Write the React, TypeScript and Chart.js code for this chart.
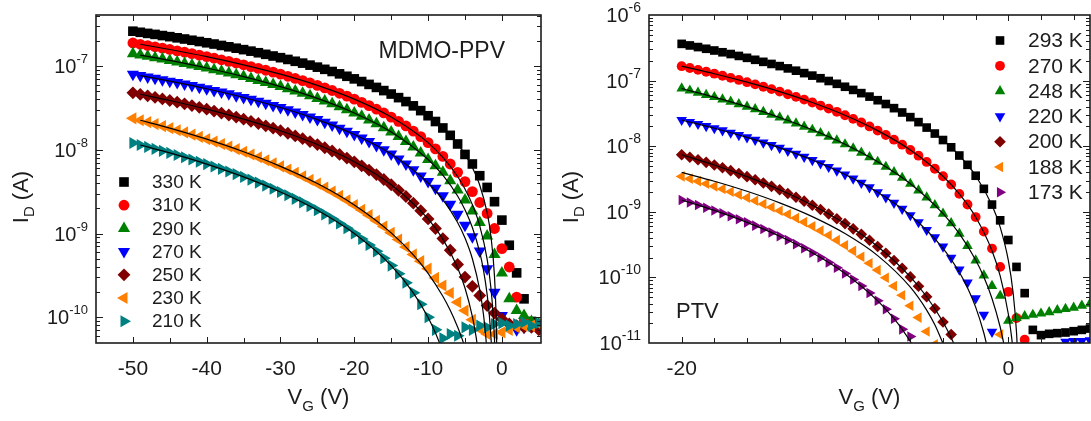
import React, { useEffect, useRef } from 'react';
import { Chart, registerables } from 'chart.js';

Chart.register(...registerables);

const FONT = '"Liberation Sans", Arial, Helvetica, sans-serif';
const INK = '#1c1c1c';

// ===================== LEFT PANEL : MDMO-PPV =====================
const leftPanelLabel = 'MDMO-PPV';
const leftTemps = ['330 K', '310 K', '290 K', '270 K', '250 K', '230 K', '210 K'];
const leftXTickLabels = [-50, -40, -30, -20, -10, 0];
const leftYExponents = [-10, -9, -8, -7];

// gate voltage (V) of the measured points
const leftVG = [-50, -49, -48, -47, -46, -45, -44, -43, -42, -41, -40, -39, -38, -37, -36, -35, -34, -33, -32, -31,
  -30, -29, -28, -27, -26, -25, -24, -23, -22, -21, -20, -19, -18, -17, -16, -15, -14, -13, -12, -11,
  -10, -9, -8, -7, -6, -5, -4, -3, -2, -1, 0, 1, 2, 3, 4, 5];

// log10 of I_D (A), one value per leftVG entry
const logI_330K = [-6.585, -6.598, -6.611, -6.623, -6.637, -6.650, -6.664, -6.678, -6.693, -6.708,
  -6.723, -6.738, -6.755, -6.771, -6.788, -6.805, -6.823, -6.842, -6.861, -6.881,
  -6.901, -6.922, -6.944, -6.966, -6.990, -7.014, -7.040, -7.066, -7.094, -7.123,
  -7.154, -7.186, -7.220, -7.256, -7.294, -7.335, -7.378, -7.425, -7.476, -7.533,
  -7.594, -7.663, -7.740, -7.828, -7.931, -8.056, -8.170, -8.310, -8.450, -8.620,
  -8.840, -9.140, -9.470, -9.780, -10.050, -10.100];
const logI_310K = [-6.726, -6.741, -6.756, -6.771, -6.787, -6.803, -6.819, -6.836, -6.853, -6.870,
  -6.888, -6.907, -6.926, -6.945, -6.965, -6.986, -7.007, -7.029, -7.051, -7.074,
  -7.098, -7.123, -7.149, -7.175, -7.203, -7.232, -7.262, -7.293, -7.326, -7.360,
  -7.396, -7.434, -7.474, -7.516, -7.561, -7.610, -7.661, -7.716, -7.777, -7.843,
  -7.915, -7.990, -8.080, -8.170, -8.270, -8.380, -8.500, -8.630, -8.760, -8.940,
  -9.180, -9.400, -9.760, -10.050, -10.100, -10.120];
const logI_290K = [-6.854, -6.870, -6.885, -6.901, -6.918, -6.934, -6.952, -6.969, -6.987, -7.006,
  -7.024, -7.044, -7.064, -7.084, -7.105, -7.127, -7.149, -7.172, -7.196, -7.220,
  -7.246, -7.271, -7.299, -7.327, -7.356, -7.387, -7.418, -7.451, -7.486, -7.522,
  -7.561, -7.601, -7.644, -7.689, -7.737, -7.788, -7.843, -7.903, -7.967, -8.038,
  -8.117, -8.190, -8.270, -8.370, -8.480, -8.600, -8.730, -8.870, -9.030, -9.250,
  -9.470, -9.780, -9.920, -9.980, -10.050, -10.080];
const logI_270K = [-7.100, -7.115, -7.131, -7.147, -7.164, -7.181, -7.198, -7.216, -7.234, -7.253,
  -7.272, -7.292, -7.312, -7.333, -7.354, -7.376, -7.398, -7.422, -7.446, -7.471,
  -7.496, -7.523, -7.550, -7.579, -7.609, -7.640, -7.672, -7.706, -7.742, -7.779,
  -7.818, -7.859, -7.903, -7.950, -7.999, -8.052, -8.110, -8.171, -8.240, -8.314,
  -8.380, -8.460, -8.550, -8.650, -8.770, -8.900, -9.040, -9.210, -9.420, -9.700,
  -9.980, -10.100, -10.150, -10.120, -10.100, -10.080];
const logI_250K = [-7.320, -7.338, -7.356, -7.374, -7.393, -7.412, -7.432, -7.452, -7.473, -7.494,
  -7.516, -7.539, -7.562, -7.585, -7.610, -7.635, -7.661, -7.687, -7.715, -7.743,
  -7.773, -7.803, -7.835, -7.868, -7.902, -7.938, -7.976, -8.015, -8.056, -8.099,
  -8.144, -8.192, -8.243, -8.297, -8.355, -8.418, -8.485, -8.558, -8.638, -8.727,
  -8.826, -8.940, -9.060, -9.200, -9.370, -9.520, -9.630, -9.740, -9.860, -9.950,
  -10.020, -10.080, -10.100, -10.120, -10.120, -10.150];
const logI_230K = [-7.625, -7.648, -7.671, -7.694, -7.718, -7.742, -7.768, -7.793, -7.820, -7.846,
  -7.874, -7.903, -7.932, -7.962, -7.992, -8.024, -8.057, -8.090, -8.125, -8.161,
  -8.198, -8.236, -8.275, -8.317, -8.360, -8.404, -8.451, -8.499, -8.550, -8.603,
  -8.659, -8.718, -8.781, -8.847, -8.917, -8.992, -9.073, -9.161, -9.250, -9.330,
  -9.420, -9.530, -9.620, -9.710, -9.820, -9.920, -10.030, -10.140, -10.200, -10.200,
  -10.180, -10.150, -10.120, -10.100, -10.100, -10.080];
const logI_210K = [-7.920, -7.943, -7.966, -7.989, -8.013, -8.038, -8.063, -8.089, -8.116, -8.143,
  -8.171, -8.200, -8.229, -8.260, -8.291, -8.324, -8.357, -8.392, -8.428, -8.465,
  -8.504, -8.544, -8.586, -8.629, -8.675, -8.722, -8.772, -8.824, -8.880, -8.938,
  -9.000, -9.066, -9.137, -9.213, -9.294, -9.383, -9.480, -9.588, -9.708, -9.845,
  -10.000, -10.150, -10.250, -10.200, -10.220, -10.120, -10.150, -10.100, -10.120, -10.080,
  -10.070, -10.100, -10.080, -10.060, -10.100, -10.070];

// fitted curves (black lines): V_G and log10 I_D
const fitVG_330K = [-49, -45, -40, -35, -30, -25, -20, -15, -10, -8, -6, -5, -4, -3, -2, -1.5, -1, -0.8, -0.7];
const fitLogI_330K = [-6.598, -6.650, -6.723, -6.805, -6.901, -7.014, -7.154, -7.335, -7.594, -7.740, -7.931, -8.056, -8.213, -8.424, -8.752, -9.021, -9.514, -9.935, -10.357];
const fitVG_310K = [-49, -45, -40, -35, -30, -25, -20, -15, -10, -8, -6, -5, -4, -3, -2, -1.5, -1.2, -1, -0.9];
const fitLogI_310K = [-6.741, -6.803, -6.888, -6.986, -7.098, -7.232, -7.396, -7.610, -7.915, -8.092, -8.319, -8.468, -8.655, -8.909, -9.306, -9.638, -9.949, -10.273, -10.514];
const fitVG_290K = [-49, -45, -40, -35, -30, -25, -20, -15, -10, -8, -6, -5, -4, -3, -2.5, -2, -1.7, -1.5, -1.4];
const fitLogI_290K = [-6.870, -6.934, -7.024, -7.127, -7.246, -7.387, -7.561, -7.788, -8.117, -8.303, -8.552, -8.717, -8.929, -9.226, -9.435, -9.726, -9.977, -10.209, -10.359];
const fitVG_270K = [-49, -45, -40, -35, -30, -25, -20, -15, -10, -8, -6, -5, -4, -3, -2.5, -2.2, -2.1];
const fitLogI_270K = [-7.115, -7.181, -7.272, -7.376, -7.496, -7.640, -7.818, -8.052, -8.397, -8.596, -8.868, -9.054, -9.301, -9.673, -9.964, -10.215, -10.322];
const fitVG_250K = [-49, -45, -40, -35, -30, -25, -20, -15, -10, -8, -6, -5, -4, -3.5, -3.3];
const fitLogI_250K = [-7.338, -7.412, -7.516, -7.635, -7.773, -7.938, -8.144, -8.418, -8.826, -9.067, -9.408, -9.650, -9.991, -10.232, -10.353];
const fitVG_230K = [-49, -45, -40, -35, -30, -25, -20, -15, -12, -10, -8, -7, -6, -5.5, -5];
const fitLogI_230K = [-7.648, -7.742, -7.874, -8.024, -8.198, -8.404, -8.659, -8.992, -9.256, -9.475, -9.749, -9.917, -10.116, -10.231, -10.359];
const fitVG_210K = [-49, -45, -40, -35, -30, -25, -20, -15, -12, -10, -9, -8.5, -8.2];
const fitLogI_210K = [-7.943, -8.038, -8.171, -8.324, -8.504, -8.722, -9.000, -9.383, -9.708, -10.003, -10.189, -10.297, -10.367];

// ===================== RIGHT PANEL : PTV =====================
const rightPanelLabel = 'PTV';
const rightTemps = ['293 K', '270 K', '248 K', '220 K', '200 K', '188 K', '173 K'];
const rightXTickLabels = [-20, 0];
const rightYExponents = [-11, -10, -9, -8, -7, -6];

const rightVG = [-20, -19.5, -19, -18.5, -18, -17.5, -17, -16.5, -16, -15.5, -15, -14.5, -14, -13.5, -13, -12.5, -12, -11.5, -11, -10.5,
  -10, -9.5, -9, -8.5, -8, -7.5, -7, -6.5, -6, -5.5, -5, -4.5, -4, -3.5, -3, -2.5, -2, -1.5, -1, -0.5,
  0, 0.5, 1, 1.5, 2, 2.5, 3, 3.5, 4, 4.5, 5];

const logI_293K = [-6.440, -6.464, -6.489, -6.515, -6.541, -6.568, -6.595, -6.624, -6.653, -6.683,
  -6.714, -6.746, -6.779, -6.814, -6.849, -6.886, -6.924, -6.964, -7.006, -7.049,
  -7.094, -7.142, -7.191, -7.244, -7.299, -7.357, -7.420, -7.486, -7.557, -7.633,
  -7.716, -7.807, -7.906, -8.017, -8.142, -8.284, -8.450, -8.650, -8.890, -9.130,
  -9.430, -9.840, -10.240, -10.800, -10.880, -10.860, -10.850, -10.840, -10.820, -10.800,
  -10.780];
const logI_270K_PTV = [-6.780, -6.808, -6.836, -6.865, -6.895, -6.926, -6.958, -6.990, -7.024, -7.058,
  -7.094, -7.130, -7.168, -7.208, -7.248, -7.290, -7.334, -7.380, -7.427, -7.476,
  -7.528, -7.583, -7.639, -7.699, -7.763, -7.829, -7.901, -7.977, -8.058, -8.145,
  -8.240, -8.344, -8.458, -8.584, -8.727, -8.889, -9.080, -9.300, -9.560, -9.840,
  -10.220, -10.620, -10.950, null, null, null, null, null, null, null,
  null];
const logI_248K = [-7.120, -7.152, -7.184, -7.217, -7.251, -7.286, -7.322, -7.359, -7.397, -7.436,
  -7.477, -7.518, -7.562, -7.606, -7.653, -7.701, -7.750, -7.802, -7.856, -7.912,
  -7.971, -8.033, -8.098, -8.166, -8.238, -8.314, -8.395, -8.481, -8.573, -8.673,
  -8.781, -8.899, -9.028, -9.172, -9.334, -9.519, -9.740, -9.970, -10.130, -10.280,
  -10.660, -10.620, -10.590, -10.570, -10.550, -10.530, -10.500, -10.480, -10.460, -10.430,
  -10.400];
const logI_220K = [-7.600, -7.630, -7.661, -7.693, -7.726, -7.759, -7.794, -7.830, -7.866, -7.904,
  -7.944, -7.984, -8.026, -8.070, -8.115, -8.162, -8.211, -8.262, -8.316, -8.372,
  -8.431, -8.493, -8.558, -8.627, -8.701, -8.780, -8.864, -8.954, -9.052, -9.159,
  -9.277, -9.390, -9.530, -9.700, -9.880, -10.080, -10.320, -10.570, -10.830, null,
  null, null, null, null, null, null, null, -10.980, -10.970, -10.970,
  -10.960];
const logI_200K = [-8.130, -8.168, -8.206, -8.246, -8.287, -8.329, -8.373, -8.417, -8.464, -8.511,
  -8.561, -8.612, -8.665, -8.720, -8.778, -8.838, -8.900, -8.965, -9.033, -9.105,
  -9.180, -9.260, -9.344, -9.434, -9.530, -9.632, -9.742, -9.862, -9.992, -10.135,
  -10.295, -10.474, -10.679, -10.870, null, null, null, null, null, null,
  null, null, null, null, null, null, null, null, null, null,
  null];
const logI_188K = [-8.460, -8.496, -8.534, -8.572, -8.612, -8.652, -8.695, -8.739, -8.784, -8.831,
  -8.880, -8.930, -8.983, -9.038, -9.096, -9.157, -9.220, -9.287, -9.357, -9.432,
  -9.511, -9.596, -9.686, -9.784, -9.889, -10.005, -10.132, -10.273, -10.432, -10.613,
  -10.825, -11.020, null, null, null, null, null, null, null, -10.870,
  null, null, null, null, null, null, null, null, null, null,
  null];
const logI_173K = [-8.820, -8.858, -8.897, -8.938, -8.979, -9.022, -9.067, -9.113, -9.161, -9.211,
  -9.262, -9.316, -9.372, -9.431, -9.493, -9.557, -9.625, -9.697, -9.773, -9.854,
  -9.940, -10.032, -10.132, -10.239, -10.357, -10.486, -10.630, -10.792, -10.900, null,
  null, null, null, null, null, null, null, null, null, null,
  null, null, null, null, null, null, null, null, null, null,
  null];

const fitVG_293K = [-20, -18, -16, -14, -12, -10, -8, -6, -4, -3, -2, -1, -0.5, 0, 0.3, 0.5, 0.6];
const fitLogI_293K = [-6.440, -6.541, -6.653, -6.779, -6.924, -7.094, -7.299, -7.557, -7.906, -8.142, -8.450, -8.900, -9.234, -9.742, -10.250, -10.835, -11.343];
const fitVG_270K_PTV = [-20, -18, -16, -14, -12, -10, -8, -6, -4, -3, -2, -1, -0.5, 0, 0.2, 0.3];
const fitLogI_270K_PTV = [-6.780, -6.895, -7.024, -7.168, -7.334, -7.528, -7.763, -8.058, -8.458, -8.727, -9.080, -9.594, -9.977, -10.558, -10.911, -11.139];
const fitVG_248K = [-20, -18, -16, -14, -12, -10, -8, -6, -4, -3, -2, -1.5, -1, -0.5, -0.25];
const fitLogI_248K = [-7.120, -7.251, -7.397, -7.562, -7.750, -7.971, -8.238, -8.573, -9.028, -9.334, -9.736, -9.995, -10.321, -10.756, -11.045];
const fitVG_220K = [-20, -18, -16, -14, -12, -10, -8, -6, -4, -3, -2.5, -2, -1.5, -1.3];
const fitLogI_220K = [-7.600, -7.726, -7.866, -8.026, -8.211, -8.431, -8.701, -9.052, -9.556, -9.921, -10.157, -10.453, -10.848, -11.054];
const fitVG_200K = [-20, -18, -16, -14, -12, -10, -8, -6, -5, -4, -3.5, -3.2];
const fitLogI_200K = [-8.130, -8.287, -8.464, -8.665, -8.900, -9.180, -9.530, -9.992, -10.295, -10.679, -10.919, -11.084];
const fitVG_188K = [-20, -18, -16, -14, -12, -10, -8, -6, -5, -4.5, -4];
const fitLogI_188K = [-8.400, -8.534, -8.687, -8.864, -9.074, -9.332, -9.668, -10.149, -10.498, -10.723, -11.006];
const fitVG_173K = [-20, -18, -16, -14, -12, -10, -8, -7, -6.5, -6, -5.5];
const fitLogI_173K = [-8.820, -8.979, -9.161, -9.372, -9.625, -9.940, -10.357, -10.630, -10.792, -10.977, -11.193];

// ===================== styles =====================
type Shape = 'rect' | 'circle' | 'triangle' | 'rectRot';
interface MStyle { color: string; shape: Shape; rot: number; r: number }

const leftStyles: MStyle[] = [
  { color: '#000000', shape: 'rect', rot: 0, r: 6.8 },
  { color: '#FF0000', shape: 'circle', rot: 0, r: 5.4 },
  { color: '#008000', shape: 'triangle', rot: 0, r: 7.0 },
  { color: '#0000FF', shape: 'triangle', rot: 180, r: 7.0 },
  { color: '#800000', shape: 'rectRot', rot: 0, r: 6.4 },
  { color: '#FF8000', shape: 'triangle', rot: 270, r: 7.0 },
  { color: '#008080', shape: 'triangle', rot: 90, r: 7.0 },
];
const rightStyles: MStyle[] = [
  { color: '#000000', shape: 'rect', rot: 0, r: 6.1 },
  { color: '#FF0000', shape: 'circle', rot: 0, r: 4.9 },
  { color: '#008000', shape: 'triangle', rot: 0, r: 6.1 },
  { color: '#0000FF', shape: 'triangle', rot: 180, r: 6.1 },
  { color: '#800000', shape: 'rectRot', rot: 0, r: 5.8 },
  { color: '#FF8000', shape: 'triangle', rot: 270, r: 6.1 },
  { color: '#800080', shape: 'triangle', rot: 90, r: 6.1 },
];

interface SeriesDef { label: string; logI: (number | null)[]; fitVG: number[]; fitLogI: number[] }

const leftSeries: SeriesDef[] = [
  { label: leftTemps[0], logI: logI_330K, fitVG: fitVG_330K, fitLogI: fitLogI_330K },
  { label: leftTemps[1], logI: logI_310K, fitVG: fitVG_310K, fitLogI: fitLogI_310K },
  { label: leftTemps[2], logI: logI_290K, fitVG: fitVG_290K, fitLogI: fitLogI_290K },
  { label: leftTemps[3], logI: logI_270K, fitVG: fitVG_270K, fitLogI: fitLogI_270K },
  { label: leftTemps[4], logI: logI_250K, fitVG: fitVG_250K, fitLogI: fitLogI_250K },
  { label: leftTemps[5], logI: logI_230K, fitVG: fitVG_230K, fitLogI: fitLogI_230K },
  { label: leftTemps[6], logI: logI_210K, fitVG: fitVG_210K, fitLogI: fitLogI_210K },
];
const rightSeries: SeriesDef[] = [
  { label: rightTemps[0], logI: logI_293K, fitVG: fitVG_293K, fitLogI: fitLogI_293K },
  { label: rightTemps[1], logI: logI_270K_PTV, fitVG: fitVG_270K_PTV, fitLogI: fitLogI_270K_PTV },
  { label: rightTemps[2], logI: logI_248K, fitVG: fitVG_248K, fitLogI: fitLogI_248K },
  { label: rightTemps[3], logI: logI_220K, fitVG: fitVG_220K, fitLogI: fitLogI_220K },
  { label: rightTemps[4], logI: logI_200K, fitVG: fitVG_200K, fitLogI: fitLogI_200K },
  { label: rightTemps[5], logI: logI_188K, fitVG: fitVG_188K, fitLogI: fitLogI_188K },
  { label: rightTemps[6], logI: logI_173K, fitVG: fitVG_173K, fitLogI: fitLogI_173K },
];

interface PanelSpec {
  width: number; left: number;
  xMin: number; xMax: number; yMin: number; yMax: number;
  padRight: number; yAxisW: number;
  xLabels: number[]; xMarkStep: number;
  yExps: number[];
  vg: number[]; series: SeriesDef[]; styles: MStyle[];
  legend: { mx: number; tx: number; y0: number; dy: number; size: number };
  yTitleX: number; supSize: number;
  label: { text: string; x: number; y: number; align: CanvasTextAlign; size: number };
}

const leftSpec: PanelSpec = {
  width: 545, left: 0,
  xMin: -55, xMax: 5.3, yMin: 4.93e-11, yMax: 4.06e-7,
  padRight: 4, yAxisW: 96,
  xLabels: leftXTickLabels, xMarkStep: 5,
  yExps: leftYExponents,
  vg: leftVG, series: leftSeries, styles: leftStyles,
  legend: { mx: 124, tx: 152, y0: 182, dy: 23.2, size: 19 },
  yTitleX: 28, supSize: 13,
  label: { text: leftPanelLabel, x: 505, y: 58, align: 'right', size: 23 },
};
const rightSpec: PanelSpec = {
  width: 546, left: 545,
  xMin: -22, xMax: 5, yMin: 1e-11, yMax: 1e-6,
  padRight: 1, yAxisW: 104,
  xLabels: rightXTickLabels, xMarkStep: 2,
  yExps: rightYExponents,
  vg: rightVG, series: rightSeries, styles: rightStyles,
  legend: { mx: 455, tx: 483, y0: 40.5, dy: 25.3, size: 21 },
  yTitleX: 33, supSize: 14,
  label: { text: rightPanelLabel, x: 131, y: 318, align: 'left', size: 22 },
};

// ===================== drawing helpers =====================
const font = (px: number) => `${px}px ${FONT}`;

function drawMarker(ctx: CanvasRenderingContext2D, s: MStyle, x: number, y: number) {
  const r = s.r;
  ctx.fillStyle = s.color;
  ctx.beginPath();
  if (s.shape === 'circle') {
    ctx.arc(x, y, r, 0, Math.PI * 2);
  } else if (s.shape === 'rect') {
    const h = r * Math.SQRT1_2;
    ctx.rect(x - h, y - h, 2 * h, 2 * h);
  } else if (s.shape === 'rectRot') {
    ctx.moveTo(x - r, y); ctx.lineTo(x, y - r); ctx.lineTo(x + r, y); ctx.lineTo(x, y + r); ctx.closePath();
  } else {
    let a = (s.rot * Math.PI) / 180;
    ctx.moveTo(x + Math.sin(a) * r, y - Math.cos(a) * r);
    for (let i = 0; i < 2; i++) {
      a += (2 * Math.PI) / 3;
      ctx.lineTo(x + Math.sin(a) * r, y - Math.cos(a) * r);
    }
    ctx.closePath();
  }
  ctx.fill();
}

type Run = { t: string; k?: 'sub' | 'sup' };
function drawRich(ctx: CanvasRenderingContext2D, runs: Run[], x: number, y: number, align: 'left' | 'center' | 'right',
  base: number, small: number, subDy: number, supDy: number) {
  let total = 0;
  const ws = runs.map((r) => {
    ctx.font = font(r.k ? small : base);
    const w = ctx.measureText(r.t).width;
    total += w;
    return w;
  });
  let cx = align === 'left' ? x : align === 'center' ? x - total / 2 : x - total;
  ctx.textAlign = 'left';
  ctx.textBaseline = 'alphabetic';
  runs.forEach((r, i) => {
    ctx.font = font(r.k ? small : base);
    const dy = r.k === 'sub' ? subDy : r.k === 'sup' ? -supDy : 0;
    ctx.fillText(r.t, cx, y + dy);
    cx += ws[i];
  });
}

function makeDecor(spec: PanelSpec) {
  return {
    id: 'decor',
    afterDraw(chart: any) {
      const { ctx, chartArea: a } = chart;
      const xs = chart.scales.x;
      const ys = chart.scales.y;
      ctx.save();
      ctx.strokeStyle = INK;
      ctx.fillStyle = INK;
      // inward tick marks, mirrored on all four sides
      ctx.lineWidth = 1;
      ctx.beginPath();
      const first = Math.ceil(spec.xMin / spec.xMarkStep) * spec.xMarkStep;
      for (let v = first; v <= spec.xMax + 1e-9; v += spec.xMarkStep) {
        const px = Math.round(xs.getPixelForValue(v)) + 0.5;
        if (px <= a.left + 2 || px >= a.right - 2) continue;
        const len = spec.xLabels.includes(v) ? 6 : 5;
        ctx.moveTo(px, a.bottom); ctx.lineTo(px, a.bottom - len);
        ctx.moveTo(px, a.top); ctx.lineTo(px, a.top + len);
      }
      const eLo = Math.floor(Math.log10(spec.yMin));
      const eHi = Math.ceil(Math.log10(spec.yMax));
      for (let e = eLo; e <= eHi; e++) {
        for (let k = 1; k <= 9; k++) {
          const v = k * Math.pow(10, e);
          if (v < spec.yMin || v > spec.yMax) continue;
          const py = Math.round(ys.getPixelForValue(v)) + 0.5;
          if (py <= a.top + 1 || py >= a.bottom - 1) continue;
          const len = k === 1 ? 7 : 4;
          ctx.moveTo(a.left, py); ctx.lineTo(a.left + len, py);
          ctx.moveTo(a.right, py); ctx.lineTo(a.right - len, py);
        }
      }
      ctx.stroke();
      // frame
      ctx.lineWidth = 1.6;
      ctx.strokeRect(a.left, a.top, a.right - a.left, a.bottom - a.top);

      // y tick labels 10^n
      for (const e of spec.yExps) {
        const py = ys.getPixelForValue(Math.pow(10, e));
        drawRich(ctx, [{ t: '10' }, { t: String(e), k: 'sup' }], a.left - 8, py + 7, 'right', 20, spec.supSize, 0, 10);
      }
      // axis titles
      ctx.save();
      ctx.translate(spec.yTitleX, 197);
      ctx.rotate(-Math.PI / 2);
      drawRich(ctx, [{ t: 'I' }, { t: 'D', k: 'sub' }, { t: ' (A)' }], 0, 0, 'center', 22, 15, 6, 0);
      ctx.restore();
      drawRich(ctx, [{ t: 'V' }, { t: 'G', k: 'sub' }, { t: ' (V)' }], (a.left + a.right) / 2, 404, 'center', 22, 15, 7, 0);

      // legend
      const lg = spec.legend;
      spec.series.forEach((s, i) => {
        const y = lg.y0 + i * lg.dy;
        drawMarker(ctx, spec.styles[i], lg.mx, y);
        ctx.fillStyle = INK;
        ctx.font = font(lg.size);
        ctx.textAlign = 'left';
        ctx.textBaseline = 'middle';
        ctx.fillText(s.label, lg.tx, y + 1);
      });

      // panel label
      ctx.fillStyle = INK;
      ctx.font = font(spec.label.size);
      ctx.textAlign = spec.label.align;
      ctx.textBaseline = 'alphabetic';
      ctx.fillText(spec.label.text, spec.label.x, spec.label.y);
      ctx.restore();
    },
  };
}

function buildConfig(spec: PanelSpec): any {
  const n = spec.series.length;
  const datasets: any[] = [];
  spec.series.forEach((s, i) => {
    const st = spec.styles[i];
    const pts = spec.vg
      .map((v, j) => ({ v, l: s.logI[j] }))
      .filter((p) => p.l !== null && p.l !== undefined)
      .map((p) => ({ x: p.v, y: Math.pow(10, p.l as number) }));
    datasets.push({
      type: 'scatter',
      label: s.label,
      data: pts,
      pointStyle: st.shape,
      pointRotation: st.rot,
      pointRadius: st.r,
      pointBackgroundColor: st.color,
      pointBorderColor: st.color,
      pointBorderWidth: 0,
      showLine: false,
      order: 20 + (n - i),
      clip: 0,
    });
  });
  spec.series.forEach((s) => {
    datasets.push({
      type: 'line',
      label: s.label + ' fit',
      data: s.fitVG.map((v, j) => ({ x: v, y: Math.pow(10, s.fitLogI[j]) })),
      borderColor: '#000000',
      borderWidth: 1.2,
      pointRadius: 0,
      fill: false,
      cubicInterpolationMode: 'monotone',
      order: 1,
      clip: 0,
    });
  });
  return {
    type: 'scatter',
    data: { datasets },
    options: {
      responsive: false,
      maintainAspectRatio: false,
      animation: false,
      events: [],
      layout: { autoPadding: false, padding: { left: 0, right: spec.padRight, top: 15, bottom: 0 } },
      plugins: { legend: { display: false }, tooltip: { enabled: false }, title: { display: false } },
      scales: {
        x: {
          type: 'linear',
          min: spec.xMin,
          max: spec.xMax,
          afterBuildTicks: (sc: any) => { sc.ticks = spec.xLabels.map((v) => ({ value: v })); },
          afterFit: (sc: any) => { sc.height = 78; },
          grid: { display: false },
          border: { display: false },
          ticks: {
            autoSkip: false,
            maxRotation: 0,
            padding: 6,
            color: INK,
            font: { family: FONT, size: 21 },
            callback: (v: number) => String(v),
          },
        },
        y: {
          type: 'logarithmic',
          min: spec.yMin,
          max: spec.yMax,
          afterFit: (sc: any) => { sc.width = spec.yAxisW; },
          grid: { display: false },
          border: { display: false },
          ticks: { display: false },
        },
      },
    },
    plugins: [makeDecor(spec)],
  };
}

function Panel({ spec }: { spec: PanelSpec }) {
  const ref = useRef<HTMLCanvasElement | null>(null);
  useEffect(() => {
    if (!ref.current) return;
    const chart = new Chart(ref.current, buildConfig(spec));
    return () => chart.destroy();
  }, [spec]);
  return (
    <canvas
      ref={ref}
      width={spec.width}
      height={421}
      style={{ position: 'absolute', left: spec.left, top: 0, width: spec.width, height: 421 }}
    />
  );
}

export default function App() {
  return (
    <div style={{ position: 'absolute', left: 0, top: 0, width: 1091, height: 421, background: '#ffffff', overflow: 'hidden' }}>
      <Panel spec={leftSpec} />
      <Panel spec={rightSpec} />
    </div>
  );
}
